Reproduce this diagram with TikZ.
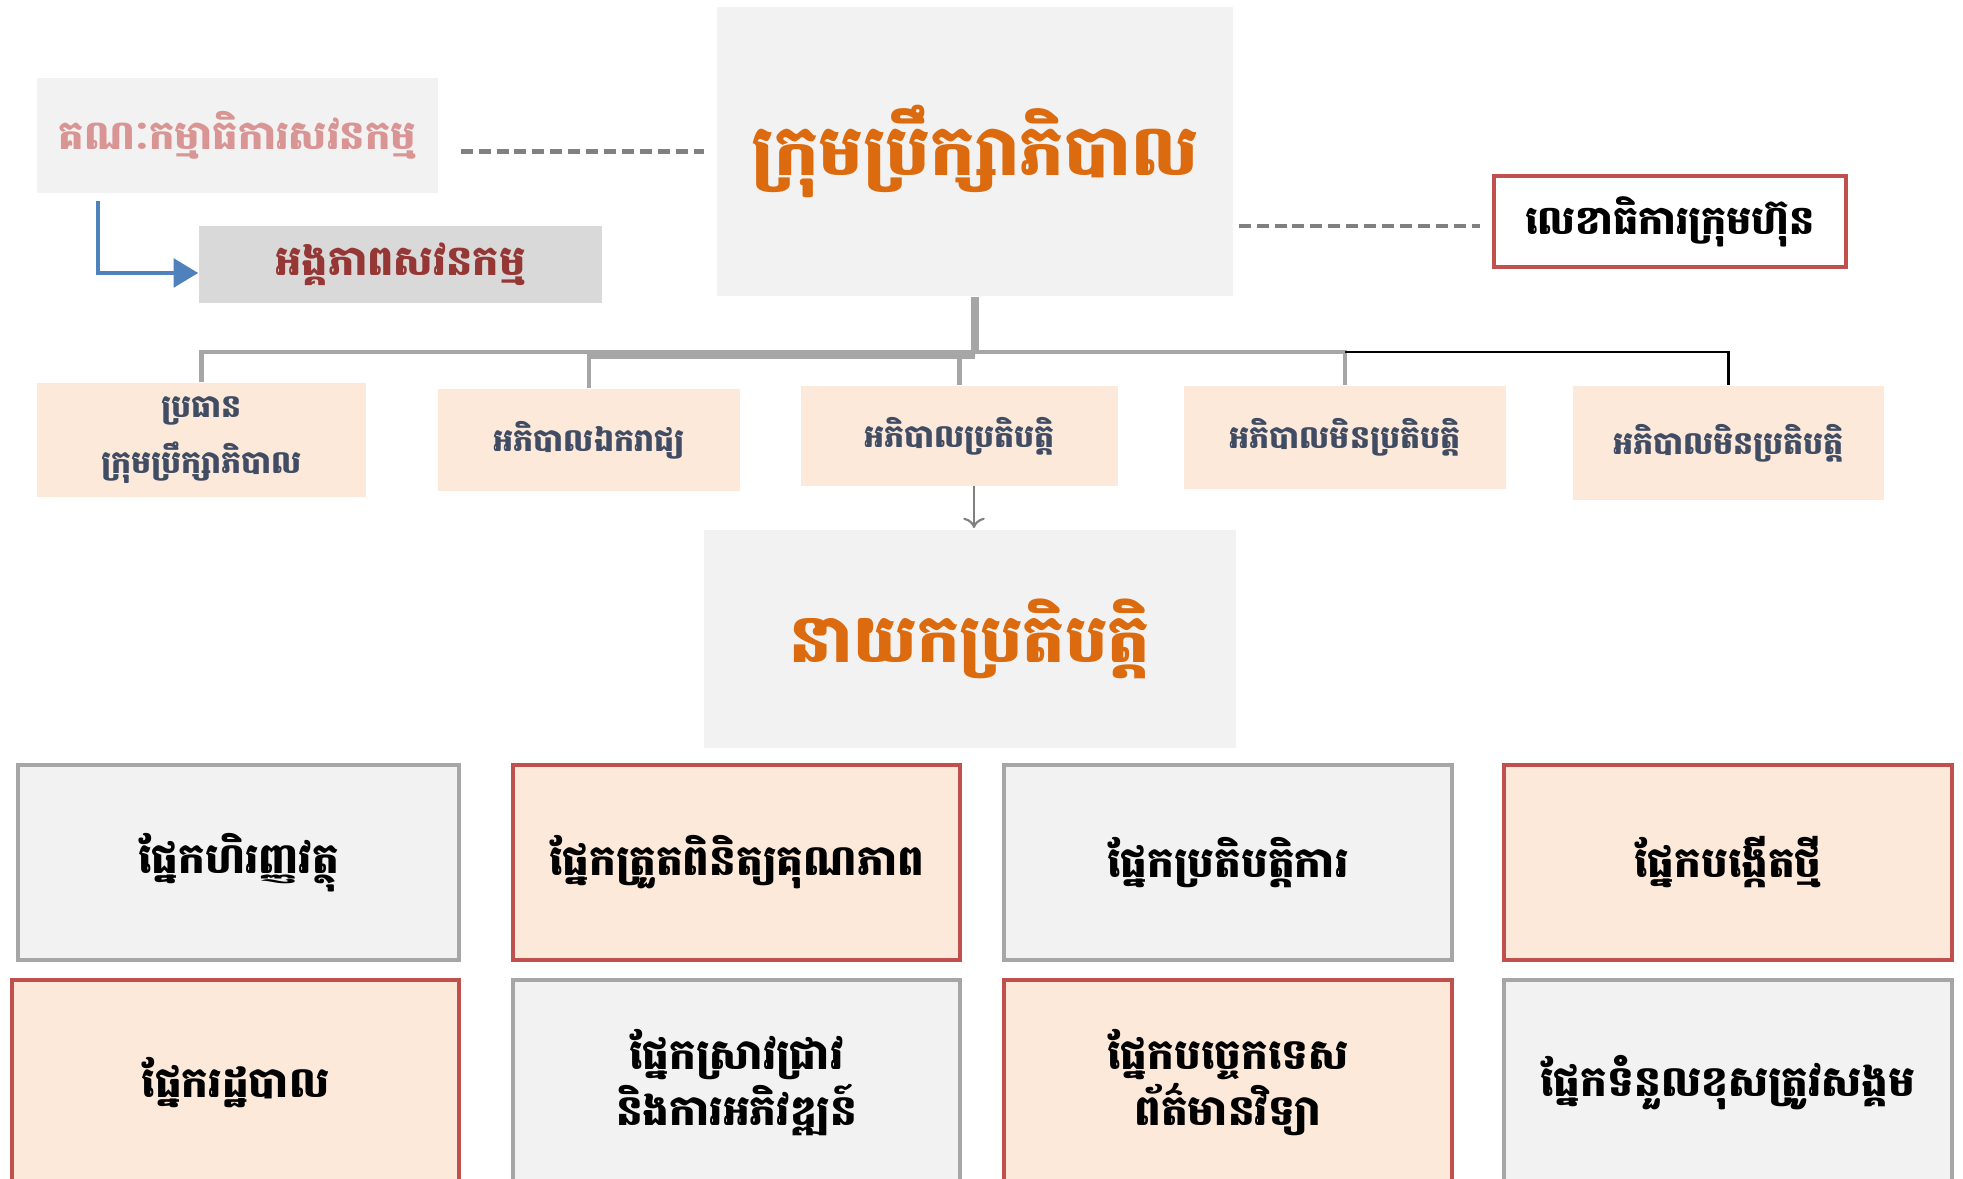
\documentclass[tikz,border=0pt]{standalone}
\usepackage{fontspec}
\newfontfamily\khmer[Script=Khmer]{Battambang}
\usetikzlibrary{positioning,arrows.meta}
\definecolor{boxgray}{HTML}{F2F2F2}
\definecolor{unitgray}{HTML}{D9D9D9}
\definecolor{peach}{HTML}{FDE9D9}
\definecolor{redline}{HTML}{C0504D}
\definecolor{grayline}{HTML}{A6A6A6}
\definecolor{titleorange}{HTML}{DC6A0E}
\definecolor{pinktext}{HTML}{D99594}
\definecolor{darkred}{HTML}{953735}
\definecolor{slatetext}{HTML}{3F4C63}
\definecolor{blueline}{HTML}{4F81BD}
\tikzset{
  plain/.style={inner sep=0pt, align=center, font=\khmer\bfseries},
  titlebox/.style={plain, fill=boxgray, text=titleorange},
  member/.style={plain, fill=peach, text=slatetext, font=\khmer\bfseries\fontsize{9}{16}\selectfont},
  deptgray/.style={plain, fill=boxgray, draw=grayline, line width=1.2pt, minimum width=4.44cm, minimum height=1.95cm, font=\khmer\bfseries\fontsize{12}{16}\selectfont},
  deptred/.style={deptgray, fill=peach, draw=redline},
  linkdash/.style={draw=gray, line width=1.2pt, dash pattern=on 3.4pt off 1.7pt},
  treeline/.style={draw=grayline, line width=1.2pt}
}
\begin{document}
\begin{tikzpicture}
  \useasboundingbox (0,0) rectangle (19.63,-11.79);
  % board and side boxes
  \node [titlebox, minimum width=5.16cm, minimum height=2.89cm, font=\khmer\bfseries\fontsize{20}{24}\selectfont] (board) at (9.75,-1.515) {ក្រុមប្រឹក្សាភិបាល};
  \node [plain, fill=boxgray, text=pinktext, minimum width=4.01cm, minimum height=1.15cm, font=\khmer\bfseries\fontsize{11.4}{14}\selectfont] (audc) at (2.375,-1.355) {គណៈកម្មាធិការសវនកម្ម};
  \node [plain, fill=unitgray, text=darkred, minimum width=4.03cm, minimum height=0.77cm, font=\khmer\bfseries\fontsize{11.8}{14}\selectfont] (audu) at (4.005,-2.645) {អង្គភាពសវនកម្ម};
  \node [plain, fill=white, draw=redline, line width=1.2pt, minimum width=3.52cm, minimum height=0.91cm, font=\khmer\bfseries\fontsize{11.3}{14}\selectfont] (secr) at (16.70,-2.215) {លេខាធិការក្រុមហ៊ុន};
  \draw [linkdash] ([xshift=0.22cm]audc.east |- board.west) -- ([xshift=-0.12cm]board.west);
  \draw [linkdash] ([xshift=0.05cm,yshift=-0.745cm]board.east) -- ([xshift=-0.12cm,yshift=-0.045cm]secr.west);
  \coordinate (bend) at ([xshift=-1.395cm]audc.south |- 0,-2.73);
  \draw [blueline, line width=1.4pt, -{Triangle[length=7pt,width=8pt]}] ([xshift=-1.395cm,yshift=-0.07cm]audc.south) -- (bend) -- (audu.west |- bend);
  % board members
  \node [member, minimum width=3.29cm, minimum height=1.14cm] (m1) at (2.015,-4.40) {ប្រធាន\\ក្រុមប្រឹក្សាភិបាល};
  \node [member, minimum width=3.02cm, minimum height=1.02cm] (m2) at (5.89,-4.40) {អភិបាលឯករាជ្យ};
  \node [member, minimum width=3.17cm, minimum height=1.00cm] (m3) at (9.595,-4.36) {អភិបាលប្រតិបត្តិ};
  \node [member, minimum width=3.22cm, minimum height=1.03cm] (m4) at (13.45,-4.375) {អភិបាលមិនប្រតិបត្តិ};
  \node [member, minimum width=3.11cm, minimum height=1.14cm] (m5) at (17.285,-4.43) {អភិបាលមិនប្រតិបត្តិ};
  \coordinate (hub) at (9.75,-3.52);
  \draw [treeline, line width=2pt] (board.south) -- (hub);
  \draw [treeline] (m1.north) -- (m1.north |- hub) -- (m4.north |- hub) -- (m4.north);
  \draw [treeline, line width=2pt] (m2.north |- 0,-3.55) -- (9.75,-3.55);
  \draw [treeline] (m2.north |- hub) -- (m2.north);
  \draw [treeline] (m3.north |- hub) -- (m3.north);
  \draw [black, line width=0.8pt] (m4.north |- hub) -- (m5.north |- hub) -- (m5.north);
  % chief executive
  \node [titlebox, minimum width=5.32cm, minimum height=2.18cm, font=\khmer\bfseries\fontsize{19}{23}\selectfont] (ceo) at (9.70,-6.39) {នាយកប្រតិបត្តិ};
  \draw [gray, line width=0.6pt, ->] (9.74,-4.86) -- (9.74 ,-5.28);
  % departments
  \node [deptgray, minimum width=4.41cm] (fin) at (2.385,-8.625) {ផ្នែកហិរញ្ញវត្ថុ};
  \node [deptred, minimum width=4.47cm] (qual) at (7.365,-8.625) {ផ្នែកត្រួតពិនិត្យគុណភាព};
  \node [deptgray, minimum width=4.48cm] (ops) at (12.28,-8.625) {ផ្នែកប្រតិបត្តិការ};
  \node [deptred, minimum width=4.48cm] (innov) at (17.28,-8.625) {ផ្នែកបង្កើតថ្មី};
  \node [deptred, minimum width=4.47cm, minimum height=2.05cm] (admin) at (2.355,-10.825) {ផ្នែករដ្ឋបាល};
  \node [deptgray, minimum width=4.47cm, minimum height=2.05cm] (rnd) at (7.365,-10.825) {ផ្នែកស្រាវជ្រាវ\\និងការអភិវឌ្ឍន៍};
  \node [deptred, minimum width=4.48cm, minimum height=2.05cm] (tech) at (12.28,-10.825) {ផ្នែកបច្ចេកទេស\\ព័ត៌មានវិទ្យា};
  \node [deptgray, minimum width=4.48cm, minimum height=2.05cm] (csr) at (17.28,-10.825) {ផ្នែកទំនួលខុសត្រូវសង្គម};
\end{tikzpicture}
\end{document}
